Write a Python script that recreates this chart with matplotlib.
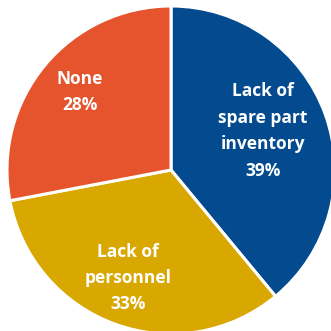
import matplotlib
matplotlib.use("Agg")
import matplotlib.pyplot as plt

labels = ["Lack of\nspare part\ninventory", "Lack of\npersonnel", "None"]
shares = [39, 33, 28]
colors = ["#034A8F", "#D8A800", "#E5542D"]

# label anchor offsets from the pie centre, in pixels
label_pos = [(92, 39), (-43, -108), (-91, 78)]

cx, cy, r = 171, 161, 164

fig = plt.figure(figsize=(3.31, 3.31), dpi=100)
ax = fig.add_axes([0, 0, 1, 1])
ax.pie(shares, colors=colors, startangle=90, counterclock=False,
       center=(cx, cy), radius=r, frame=True,
       wedgeprops=dict(edgecolor="white", linewidth=2.2))

for lab, val, (dx, dy) in zip(labels, shares, label_pos):
    ax.text(cx + dx, cy + dy, f"{lab}\n{val}%", ha="center", va="center",
            color="white", fontsize=12.5, fontweight="bold", family="Open Sans",
            linespacing=1.6)

ax.set_xlim(0, 331)
ax.set_ylim(0, 331)
ax.set_aspect("equal")
ax.axis("off")
fig.savefig("out.png", dpi=100)
